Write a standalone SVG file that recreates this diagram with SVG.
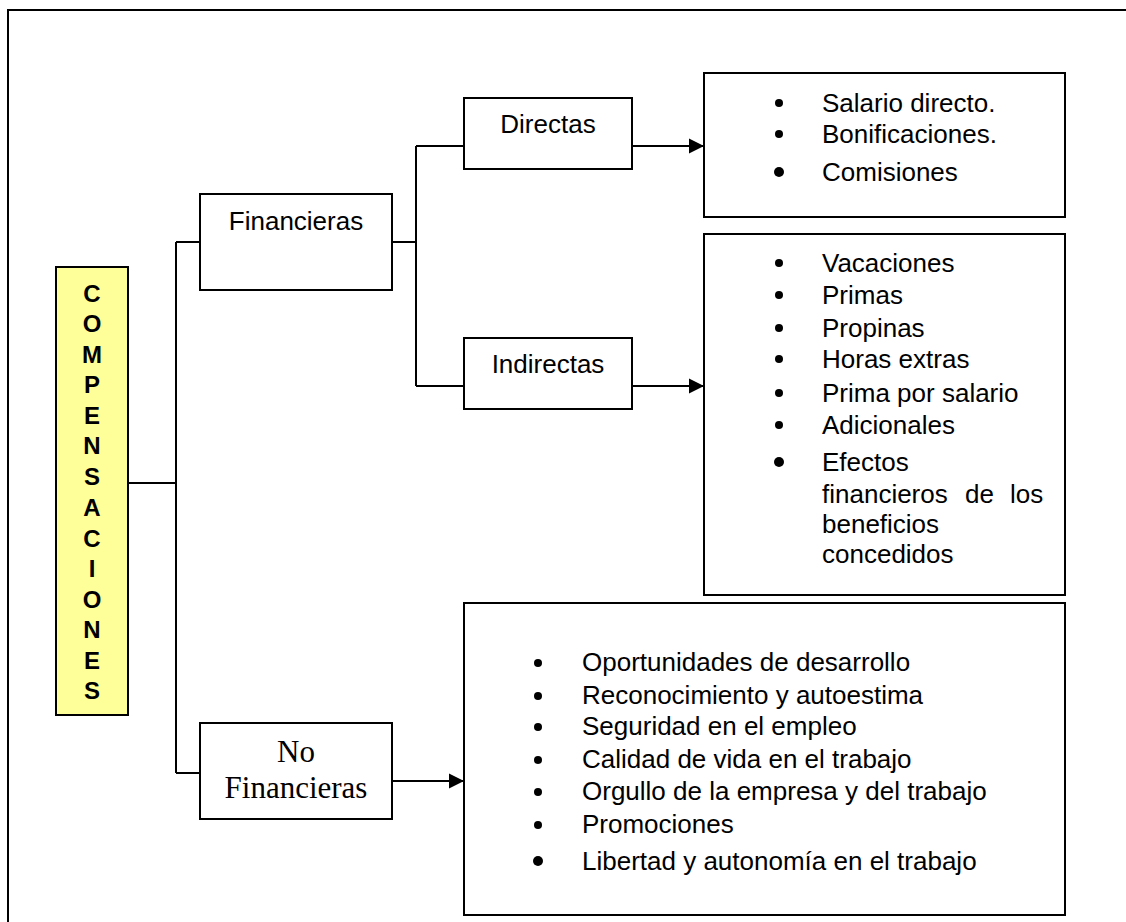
<svg xmlns="http://www.w3.org/2000/svg" width="1126" height="922" viewBox="0 0 1126 922">
  <style>
    .box { fill: #ffffff; stroke: #000000; stroke-width: 2; }
    .root { fill: #ffff99; stroke: #000000; stroke-width: 2; }
    .frame { fill: none; stroke: #000000; stroke-width: 2; }
    .wire { fill: none; stroke: #000000; stroke-width: 2; }
    .lbl { font-family: "Liberation Sans", Arial, sans-serif; font-size: 26px; fill: #000000; }
    .serif { font-family: "Liberation Serif", "Times New Roman", serif; font-size: 31px; fill: #000000; }
    .vert { font-family: "Liberation Sans", Arial, sans-serif; font-size: 24px; font-weight: bold; fill: #000000; }
    .dot { fill: #000000; }
  </style>
  <defs>
    <marker id="arrow" markerUnits="userSpaceOnUse" markerWidth="16" markerHeight="16" viewBox="0 0 16 16" refX="15" refY="8" orient="auto">
      <polygon points="0,0.5 15,8 0,15.5" fill="#000000"/>
    </marker>
  </defs>

  <rect width="1126" height="922" fill="#ffffff"/>
  <!-- page frame -->
  <rect class="frame" x="8" y="10" width="1130" height="930"/>

  <!-- connectors -->
  <g id="connectors">
    <path class="wire" d="M128,483 H176 M176,242 V773 M176,242 H200 M176,773 H200"/>
    <path class="wire" d="M392,242 H416 M416,146 V386 M416,146 H464 M416,386 H464"/>
    <line class="wire" x1="632" y1="146" x2="704" y2="146" marker-end="url(#arrow)"/>
    <line class="wire" x1="632" y1="386" x2="704" y2="386" marker-end="url(#arrow)"/>
    <line class="wire" x1="392" y1="781" x2="464" y2="781" marker-end="url(#arrow)"/>
  </g>

  <!-- root: vertical title -->
  <g id="compensaciones">
    <rect class="root" x="56" y="267" width="72" height="448"/>
    <g class="vert" text-anchor="middle">
      <text x="92" y="302">C</text>
      <text x="92" y="332">O</text>
      <text x="92" y="363">M</text>
      <text x="92" y="393">P</text>
      <text x="92" y="424">E</text>
      <text x="92" y="454">N</text>
      <text x="92" y="485">S</text>
      <text x="92" y="516">A</text>
      <text x="92" y="547">C</text>
      <text x="92" y="577">I</text>
      <text x="92" y="608">O</text>
      <text x="92" y="638">N</text>
      <text x="92" y="669">E</text>
      <text x="92" y="699">S</text>
    </g>
  </g>

  <g id="financieras">
    <rect class="box" x="200" y="194" width="192" height="96"/>
    <text class="lbl" x="296" y="230" text-anchor="middle">Financieras</text>
  </g>

  <g id="directas">
    <rect class="box" x="464" y="98" width="168" height="71"/>
    <text class="lbl" x="548" y="133" text-anchor="middle">Directas</text>
  </g>

  <g id="indirectas">
    <rect class="box" x="464" y="338" width="168" height="71"/>
    <text class="lbl" x="548" y="373" text-anchor="middle">Indirectas</text>
  </g>

  <g id="no-financieras">
    <rect class="box" x="200" y="723" width="192" height="96"/>
    <text class="serif" x="296" y="762" text-anchor="middle">No</text>
    <text class="serif" x="296" y="798" text-anchor="middle">Financieras</text>
  </g>

  <!-- list of direct items -->
  <g id="lista-directas">
    <rect class="box" x="704" y="73" width="361" height="144"/>
    <circle class="dot" cx="779" cy="103" r="4"/>
    <circle class="dot" cx="779" cy="134" r="4"/>
    <circle class="dot" cx="779" cy="172" r="5"/>
    <text class="lbl" x="822" y="112">Salario directo.</text>
    <text class="lbl" x="822" y="143">Bonificaciones.</text>
    <text class="lbl" x="822" y="181">Comisiones</text>
  </g>

  <!-- list of indirect items -->
  <g id="lista-indirectas">
    <rect class="box" x="704" y="234" width="361" height="361"/>
    <circle class="dot" cx="779" cy="263" r="4"/>
    <circle class="dot" cx="779" cy="295" r="4"/>
    <circle class="dot" cx="779" cy="328" r="4"/>
    <circle class="dot" cx="779" cy="359" r="4"/>
    <circle class="dot" cx="779" cy="393" r="4"/>
    <circle class="dot" cx="779" cy="425" r="4"/>
    <circle class="dot" cx="779" cy="462" r="5"/>
    <text class="lbl" x="822" y="272">Vacaciones</text>
    <text class="lbl" x="822" y="304">Primas</text>
    <text class="lbl" x="822" y="337">Propinas</text>
    <text class="lbl" x="822" y="368">Horas extras</text>
    <text class="lbl" x="822" y="402">Prima por salario</text>
    <text class="lbl" x="822" y="434">Adicionales</text>
    <text class="lbl" x="822" y="471">Efectos</text>
    <text class="lbl" y="503"><tspan x="822">financieros</tspan><tspan x="965">de</tspan><tspan x="1010">los</tspan></text>
    <text class="lbl" x="822" y="533">beneficios</text>
    <text class="lbl" x="822" y="563">concedidos</text>
  </g>

  <!-- list of non-financial items -->
  <g id="lista-no-financieras">
    <rect class="box" x="464" y="603" width="601" height="312"/>
    <circle class="dot" cx="538" cy="663" r="4"/>
    <circle class="dot" cx="538" cy="696" r="4"/>
    <circle class="dot" cx="538" cy="727" r="4"/>
    <circle class="dot" cx="538" cy="760" r="4"/>
    <circle class="dot" cx="538" cy="792" r="4"/>
    <circle class="dot" cx="538" cy="825" r="4"/>
    <circle class="dot" cx="538" cy="861" r="5"/>
    <text class="lbl" x="582" y="671">Oportunidades de desarrollo</text>
    <text class="lbl" x="582" y="704">Reconocimiento y autoestima</text>
    <text class="lbl" x="582" y="735">Seguridad en el empleo</text>
    <text class="lbl" x="582" y="768">Calidad de vida en el trabajo</text>
    <text class="lbl" x="582" y="800">Orgullo de la empresa y del trabajo</text>
    <text class="lbl" x="582" y="833">Promociones</text>
    <text class="lbl" x="582" y="870">Libertad y autonomía en el trabajo</text>
  </g>
</svg>
